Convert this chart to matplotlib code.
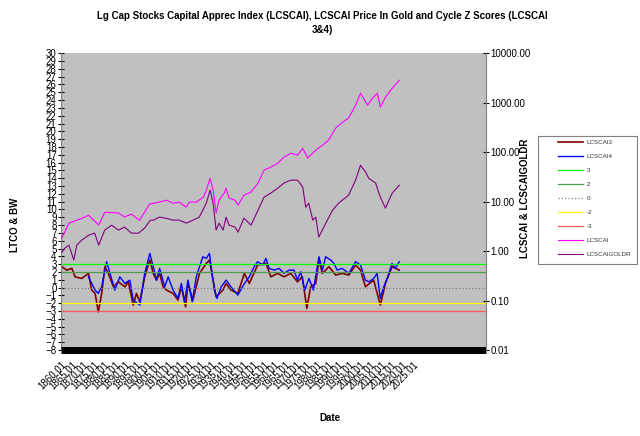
import numpy as np
import matplotlib
matplotlib.use("Agg")
import matplotlib.pyplot as plt
from matplotlib.patches import Rectangle

plt.rcParams['font.family'] = ['Liberation Sans', 'DejaVu Sans']

# LCSCAI (right axis, log)
LcsYears = [1860, 1863.3, 1869.3, 1872.6, 1877.3, 1880.1, 1886.6, 1889.4, 1892.7, 1896.4, 1898.8, 1901.1, 1903, 1905.8,
            1909.1, 1912.3, 1915.1, 1918.4, 1919.8, 1923.1, 1926.4, 1927.8, 1929.6, 1931, 1932.4, 1933.8, 1936.2, 1937.1,
            1938.5, 1941.3, 1942.7, 1945.5, 1948.8, 1952.1, 1954.9, 1958.1, 1961.4, 1964.2, 1967.5, 1970.7, 1973.1,
            1975.4, 1978.2, 1981, 1982.4, 1985.2, 1988.5, 1991.8, 1994.6, 1997.9, 2000.2, 2003.5, 2005.8, 2008.1,
            2009.5, 2011.9, 2015.1, 2018.4]
LcsVals = [1.83, 3.68, 4.6, 5.3, 3.35, 6.1, 5.9, 4.9, 5.6, 4.2, 6.1, 8.9, 9.3, 9.8, 10.7, 9.3, 9.8, 7.7, 9.8, 9.8,
           12.3, 17.1, 29.8, 17.1, 5.9, 10.7, 14.9, 18.8, 11.8, 10.7, 8.5, 13.5, 15.6, 23.7, 43.3, 49.8, 60, 79, 95,
           87, 120, 76, 100, 126, 138, 175, 305, 404, 486, 889, 1556, 889, 1233, 1556, 811, 1291, 1963, 2849]

# LCSCAIGOLDR (right axis, log)
GoldYears = [1860, 1861.4, 1863.3, 1865.6, 1867, 1869.3, 1872.6, 1875.4, 1877.3, 1880.1, 1883.4, 1886.6, 1889.4,
             1892.7, 1896, 1898.8, 1901.6, 1903, 1905.8, 1909.1, 1912.3, 1915.1, 1918.4, 1921.6, 1924.5, 1927.8,
             1929.6, 1931, 1932.4, 1933.8, 1935.7, 1937.1, 1938.5, 1941.3, 1942.7, 1945.5, 1948.8, 1952.1, 1954.9,
             1958.1, 1961.4, 1964.2, 1967.5, 1970.7, 1973.1, 1974.5, 1975.9, 1977.8, 1979.2, 1980.6, 1983.9, 1987.1,
             1989.9, 1994.6, 1997.9, 2000.2, 2002.6, 2004, 2007.3, 2009.5, 2011.9, 2015.1, 2018.4]
GoldVals = [0.95, 1.15, 1.32, 0.66, 1.32, 1.67, 2.1, 2.31, 1.32, 2.66, 3.35, 2.66, 3.06, 2.31, 2.31, 2.92, 4.23,
            4.23, 4.86, 4.6, 4.23, 4.23, 3.68, 4.23, 4.86, 9.3, 17.1, 9.3, 2.66, 3.68, 2.66, 4.86, 3.35, 3.06, 2.42,
            4.64, 3.35, 6.73, 12.3, 14.9, 18.8, 23.7, 27.2, 27.2, 19.6, 7.7, 9.3, 4.23, 4.86, 1.92, 3.68, 6.73, 9.3,
            13.5, 27.2, 54.6, 39.5, 29.9, 23.7, 12.3, 7.4, 14.9, 21.5]

# LCSCAI3 z score (left axis)
Z3Years = [1860, 1862.3, 1864.7, 1866.2, 1869.3, 1872.5, 1874, 1875.6, 1877.1, 1878.7, 1880.2, 1881.8, 1884.2,
           1886.5, 1889.6, 1891.2, 1893.5, 1895, 1896.6, 1898.9, 1901.3, 1902.9, 1904.4, 1905.9, 1907.5, 1909.1,
           1912.2, 1914.5, 1916.1, 1918.1, 1919.2, 1921.5, 1924.6, 1927.8, 1929.3, 1932.4, 1935.6, 1937.1, 1939.4,
           1942.6, 1945.7, 1948, 1951.9, 1955.8, 1958.1, 1961.3, 1964.3, 1967.5, 1970.6, 1972.9, 1975, 1976.8,
           1979.2, 1980.7, 1982.3, 1985.4, 1988.5, 1991.6, 1994.7, 1997.9, 2000.2, 2002.5, 2006.4, 2009.5, 2011.9,
           2015, 2018.4]
Z3Vals = [2.67, 2.24, 2.46, 1.38, 1.17, 1.82, -0.32, -0.74, -3.1, -0.74, 2.67, 1.82, 0.1, 0.74, 0.1, 0.74, -2.24,
          -0.74, -1.82, 1.38, 3.53, 1.82, 0.96, 1.82, 0.1, -0.32, -0.74, -1.6, 0.1, -2.46, 0.53, -1.6, 1.82, 3.1,
          3.53, -1.17, -0.32, 0.53, -0.32, -0.74, 1.82, 0.53, 2.88, 3.1, 1.38, 1.82, 1.38, 1.82, 0.74, 1.38, -2.67,
          0.1, 0.53, 3.53, 1.82, 2.67, 1.6, 1.82, 1.6, 2.88, 2.24, 0.1, 0.96, -2.24, 0.53, 2.67, 2.24]

# LCSCAI4 z score (left axis)
Z4Years = [1872.5, 1875.6, 1877.1, 1878.7, 1881, 1882.6, 1884.9, 1887.2, 1889.6, 1891.9, 1893.5, 1896.6, 1898.9,
           1901.3, 1902.9, 1904.4, 1905.9, 1908.3, 1909.9, 1912.2, 1914.5, 1916.1, 1917.6, 1919.2, 1921.2, 1923.1,
           1924.6, 1926.2, 1927.8, 1929.3, 1930.1, 1931.6, 1932.8, 1934.8, 1937.1, 1939.4, 1942.6, 1945.7, 1948,
           1950.3, 1951.9, 1954.3, 1955.8, 1957.3, 1959.7, 1962, 1964.3, 1966.7, 1969, 1970.6, 1972.1, 1974, 1976,
           1978.1, 1980.7, 1982.3, 1983.8, 1986.2, 1987.7, 1989.3, 1991.6, 1994.7, 1997.9, 2000.2, 2002.5, 2004.1,
           2006.4, 2008, 2009.5, 2011.1, 2012.7, 2015, 2016.5, 2018.4]
Z4Vals = [1.38, -0.32, -0.74, 0.1, 3.31, 1.82, -0.32, 1.38, 0.53, 0.96, -1.6, -2.24, 1.82, 4.38, 2.67, 0.96, 2.46,
          0.1, 1.38, -0.32, -1.38, 0.53, -1.82, 0.96, -1.82, 1.38, 2.67, 3.95, 3.74, 4.38, 2.67, -0.32, -1.38, 0.1,
          0.96, 0.1, -0.96, 0.53, 1.38, 2.67, 3.31, 2.88, 3.74, 2.46, 2.24, 2.46, 1.82, 2.24, 2.24, 0.96, 2.03,
          -0.32, 1.17, -0.32, 3.95, 2.24, 3.95, 3.53, 3.1, 2.24, 2.46, 1.82, 3.31, 2.88, 0.96, 0.74, 1.17, 1.82,
          -1.38, 0.1, 1.17, 3.1, 2.46, 3.31]

# reference levels
Levels = [3, 2, 0, -2, -3]
LevelColors = ['#00ff00', '#4f9a4f', '#808080', '#ffff00', '#ff5a5a']
LevelStyles = ['-', '-', ':', '-', '-']

TickYears = list(range(1860, 2026, 5))

fig = plt.figure(figsize=(6.4, 4.36), dpi=100)
ax = fig.add_axes([0.095, 0.197, 0.664, 0.681])
ax.set_facecolor('#c0c0c0')

lines = []
l3, = ax.plot(Z3Years, Z3Vals, color='#800000', lw=1.2, label='LCSCAI3')
l4, = ax.plot(Z4Years, Z4Vals, color='#0000ff', lw=1.0, label='LCSCAI4')
lines += [l3, l4]
for lev, c, s in zip(Levels, LevelColors, LevelStyles):
    ll = ax.axhline(lev, color=c, ls=s, lw=0.9, label=str(lev))
    lines.append(ll)

ax.set_xlim(1859.5, 2059)
ax.set_ylim(-8, 30)
ax.set_yticks(range(-8, 31))
ax.tick_params(axis='y', labelsize=7, length=4, pad=1, direction='inout')
ax.set_xticks(TickYears)
ax.set_xticklabels(['%d.01' % y for y in TickYears], rotation=45, ha='right', rotation_mode='anchor', fontsize=7)
ax.tick_params(axis='x', length=0, pad=7)
for s in ['top', 'right']:
    ax.spines[s].set_visible(False)
ax.spines['bottom'].set_linewidth(5)
ax.spines['bottom'].set_capstyle('butt')
ax.spines['bottom'].set_color('black')
ax.spines['left'].set_color('#808080')

ax2 = ax.twinx()
ax2.set_yscale('log')
ax2.set_ylim(0.01, 10000)
lc, = ax2.plot(LcsYears, LcsVals, color='#ff00ff', lw=0.8, label='LCSCAI')
lg, = ax2.plot(GoldYears, GoldVals, color='#800080', lw=0.8, label='LCSCAIGOLDR')
lines += [lc, lg]
ax2.set_yticks([0.01, 0.1, 1, 10, 100, 1000, 10000])
ax2.set_yticklabels(['0.01', '0.10', '1.00', '10.00', '100.00', '1000.00', '10000.00'])
ax2.yaxis.set_minor_locator(matplotlib.ticker.NullLocator())
ax2.tick_params(axis='y', labelsize=7, length=5, pad=1, direction='inout')
for s in ['top', 'left', 'bottom']:
    ax2.spines[s].set_visible(False)
ax2.spines['right'].set_color('#808080')

fig.text(0.504, 0.975, 'Lg Cap Stocks Capital Apprec Index (LCSCAI), LCSCAI Price In Gold and Cycle Z Scores (LCSCAI\n3&4)',
         ha='center', va='top', fontsize=7, fontweight='bold', linespacing=1.5)
fig.text(0.023, 0.484, 'LTCO & BW', rotation=90, ha='center', va='center', fontsize=7, fontweight='bold')
fig.text(0.82, 0.546, 'LCSCAI & LCSCAIGOLDR', rotation=90, ha='center', va='center', fontsize=7, fontweight='bold')
fig.text(0.516, 0.041, 'Date', ha='center', va='center', fontsize=7, fontweight='bold')

# legend box drawn separately, entries placed inside it
box = Rectangle((538 / 640, 1 - 264 / 436), 99 / 640, 128 / 436, transform=fig.transFigure,
                facecolor='white', edgecolor='#808080', lw=0.8)
fig.patches.append(box)
leg = fig.legend(lines, [l.get_label() for l in lines], loc='upper left', bbox_to_anchor=(0.872, 0.679),
                 fontsize=4.5, labelspacing=1.37, handlelength=4.0, borderpad=0, borderaxespad=0,
                 handletextpad=0.6, frameon=False)
for t in leg.get_texts():
    t.set_color('#333333')

fig.savefig('out.png', dpi=100, facecolor='white')
